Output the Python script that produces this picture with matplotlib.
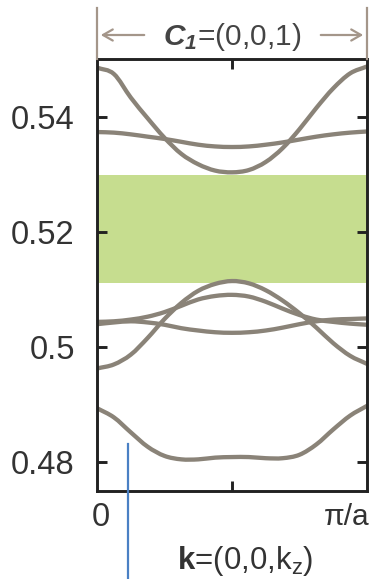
import matplotlib
matplotlib.use("Agg")
import matplotlib.pyplot as plt
from matplotlib.transforms import blended_transform_factory
from matplotlib.lines import Line2D
from matplotlib.path import Path
from matplotlib.patches import PathPatch, FancyArrowPatch

plt.rcParams['font.family'] = ['Liberation Sans', 'DejaVu Sans']
plt.rcParams['mathtext.fontset'] = 'custom'
plt.rcParams['mathtext.rm'] = 'Liberation Sans'
plt.rcParams['mathtext.it'] = 'Liberation Sans:italic'
plt.rcParams['mathtext.bf'] = 'Liberation Sans:italic:bold'
plt.rcParams['mathtext.sf'] = 'Liberation Sans:bold'

# ---- data ----
k = [0, 0.0625, 0.125, 0.1875, 0.25, 0.3125, 0.375, 0.4375, 0.5,
     0.5625, 0.625, 0.6875, 0.75, 0.8125, 0.875, 0.9375, 1.0]

band_a = [0.5485, 0.5474, 0.5433, 0.5397, 0.5363, 0.5335, 0.5317, 0.5306, 0.5303,
          0.5307, 0.5321, 0.5345, 0.5378, 0.5415, 0.5449, 0.5475, 0.5487]
band_b = [0.5373, 0.5372, 0.5369, 0.5365, 0.5361, 0.5356, 0.5351, 0.5348, 0.5347,
          0.5348, 0.5351, 0.5355, 0.5360, 0.5365, 0.5369, 0.5372, 0.5374]
band_c = [0.4962, 0.4969, 0.4986, 0.5015, 0.5048, 0.5076, 0.5097, 0.5109, 0.5114,
          0.5110, 0.5098, 0.5080, 0.5058, 0.5033, 0.5006, 0.4984, 0.4970]
band_d = [0.5043, 0.5044, 0.5047, 0.5052, 0.5060, 0.5071, 0.5082, 0.5088, 0.5090,
          0.5087, 0.5078, 0.5066, 0.5055, 0.5047, 0.5043, 0.5040, 0.5038]
band_e = [0.5039, 0.5042, 0.5044, 0.5042, 0.5038, 0.5032, 0.5028, 0.5025, 0.5024,
          0.5025, 0.5028, 0.5033, 0.5039, 0.5044, 0.5047, 0.5048, 0.5049]
band_f = [0.4893, 0.4877, 0.4851, 0.4826, 0.4810, 0.4804, 0.4804, 0.4807, 0.4808,
          0.4808, 0.4806, 0.4806, 0.4812, 0.4830, 0.4856, 0.4880, 0.4897]
bands = [band_a, band_b, band_c, band_d, band_e, band_f]

gap = (0.5111, 0.5299)
y_ticks = [0.48, 0.50, 0.52, 0.54]
y_ticklabels = ['0.48', '0.5', '0.52', '0.54']
x_ticks = [0.5]
x_end_labels = ['0', 'π/a']
marker_k = 0.115
marker_top = 0.4830


def smooth_path(xs, ys):
    """Catmull-Rom curve through the given points, as cubic Bezier path."""
    n = len(xs)
    verts = [(xs[0], ys[0])]
    codes = [Path.MOVETO]
    for i in range(n - 1):
        x0, y0 = (xs[i - 1], ys[i - 1]) if i > 0 else (2 * xs[0] - xs[1], 2 * ys[0] - ys[1])
        x1, y1 = xs[i], ys[i]
        x2, y2 = xs[i + 1], ys[i + 1]
        x3, y3 = (xs[i + 2], ys[i + 2]) if i + 2 < n else (2 * xs[-1] - xs[-2], 2 * ys[-1] - ys[-2])
        c1 = (x1 + (x2 - x0) / 6, y1 + (y2 - y0) / 6)
        c2 = (x2 - (x3 - x1) / 6, y2 - (y3 - y1) / 6)
        verts += [c1, c2, (x2, y2)]
        codes += [Path.CURVE4] * 3
    return Path(verts, codes)


# ---- figure ----
W, H = 369, 579
fig = plt.figure(figsize=(W / 100, H / 100), dpi=100)
ax = fig.add_axes([97 / W, 1 - 491 / H, 270 / W, 432 / H])

band_color = '#8a8378'
ax.axhspan(gap[0], gap[1], color='#c6dd8f', lw=0, zorder=0)
for b in bands:
    ax.add_patch(PathPatch(smooth_path(k, b), fill=False, edgecolor=band_color,
                           lw=3.1, capstyle='round', zorder=2))

ax.set_xlim(0, 1)
ax.set_ylim(0.4749, 0.5500)
ax.set_yticks(y_ticks)
ax.set_yticklabels(y_ticklabels)
ax.set_xticks(x_ticks)
ax.set_xticklabels([''])

for s in ax.spines.values():
    s.set_linewidth(2.1)
    s.set_color('#222222')
ax.tick_params(axis='both', direction='in', length=7, width=2.1, color='#222222',
               labelsize=23.5, labelcolor='#333333', top=True, right=True)
ax.tick_params(axis='y', pad=16)

# x end labels (0 and π/a)
fig.text(101 / W, 1 - 518 / H, x_end_labels[0], ha='center', va='center',
         fontsize=23.5, color='#333333')
fig.text(369 / W, 1 - 517 / H, x_end_labels[1], ha='right', va='center',
         fontsize=21.5, color='#333333')

# blue marker line extending below axes
trans = blended_transform_factory(ax.transData, fig.transFigure)
y0_fig = ax.transData.transform((marker_k, marker_top))
y0_fig = fig.transFigure.inverted().transform(y0_fig)[1]
fig.add_artist(Line2D([marker_k, marker_k], [y0_fig, 0.0], transform=trans,
                      color='#4a80c4', lw=1.6))

# x-axis label
fig.text(245 / W, 1 - 561 / H, r'$\mathsf{k}$=(0,0,k$_{\mathrm{z}}$)',
         ha='center', va='center', fontsize=22.5, color='#333333')

# top annotation
tan = '#a4968a'
tfig = fig.transFigure
for xp in (97, 367):
    fig.add_artist(Line2D([xp / W, xp / W], [1 - 8 / H, 1 - 59 / H], transform=tfig,
                          color=tan, lw=1.6))
ya = 1 - 35 / H
fig.add_artist(FancyArrowPatch((147 / W, ya), (98 / W, ya),
               transform=tfig, arrowstyle='->,head_length=7,head_width=4',
               color=tan, lw=1.6, mutation_scale=1))
fig.add_artist(FancyArrowPatch((318 / W, ya), (366 / W, ya),
               transform=tfig, arrowstyle='->,head_length=7,head_width=4',
               color=tan, lw=1.6, mutation_scale=1))
fig.text(232 / W, 1 - 37 / H, r'$\mathbf{C}_{\mathbf{1}}$=(0,0,1)',
         ha='center', va='center', fontsize=21.5, color='#444444')

fig.savefig('out.png', dpi=100)
